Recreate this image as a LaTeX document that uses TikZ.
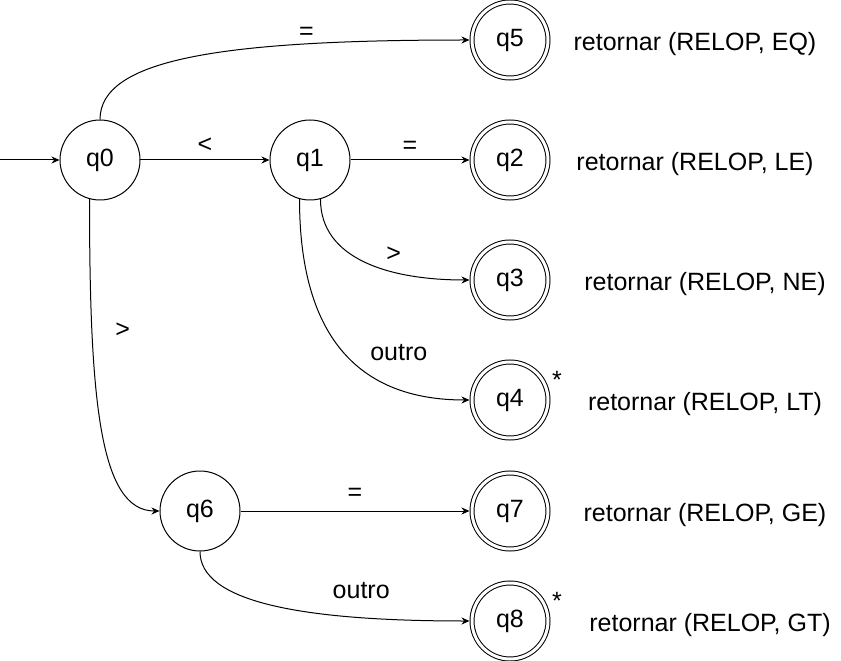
\documentclass[tikz,border=0pt]{standalone}
\usepackage{fontspec}
\setmainfont{Liberation Sans}
\usetikzlibrary{automata, positioning, arrows.meta}

\begin{document}
\begin{tikzpicture}[>={Stealth[length=8pt,width=7pt]}, node distance=120pt, on grid, auto,
    font=\fontsize{25}{30}\selectfont, line width=1pt,
    every state/.style={minimum size=80pt, inner sep=0pt},
    accepting by double/.style={double, double distance=3pt, minimum size=76pt, outer sep=2.5pt},
    retorno/.style={yshift=-4pt},
    asterisco/.style={inner sep=0pt}]
  \useasboundingbox (-100pt,-501pt) rectangle (741pt,160pt);

  \node[state] (q0) {q0};
  \node[state, right=210pt of q0] (q1) {q1};
  \node[state, accepting, right=200pt of q1] (q2) {q2};
  \node[state, accepting, above=120pt of q2] (q5) {q5};
  \node[state, accepting, below=120pt of q2] (q3) {q3};
  \node[state, accepting, below=120pt of q3] (q4) {q4};
  \node[state, below right=351pt and 100pt of q0] (q6) {q6};
  \node[state, accepting, right=310pt of q6] (q7) {q7};
  \node[state, accepting, below=110pt of q7] (q8) {q8};
  \coordinate[left=100pt of q0] (ini);

  \node[asterisco, above right=20pt and 47pt of q4] (s4) {*};
  \node[asterisco, above right=20pt and 47pt of q8] (s8) {*};

  \node[retorno, right=185pt of q5] (r5) {retornar (RELOP, EQ)};
  \node[retorno, right=185pt of q2] (r2) {retornar (RELOP, LE)};
  \node[retorno, right=195pt of q3] (r3) {retornar (RELOP, NE)};
  \node[retorno, right=195pt of q4] (r4) {retornar (RELOP, LT)};
  \node[retorno, right=195pt of q7] (r7) {retornar (RELOP, GE)};
  \node[retorno, right=200pt of q8] (r8) {retornar (RELOP, GT)};

  \path[->]
  (ini) edge (q0)
  (q0) edge node[yshift=4pt] {<} (q1)
  (q1) edge node[yshift=3pt] {=} (q2)
  (q0.north) edge[out=90, in=180, out distance=60pt, in distance=250pt] node[pos=0.77] {=} (q5)
  (q1.-75) edge[out=-90, in=180, out distance=60pt, in distance=80pt] node[pos=0.6, yshift=3pt] {>} (q3)
  (q1.-105) edge[out=-90, in=180, out distance=150pt, in distance=100pt] node[pos=0.6, yshift=8pt] {outro} (q4)
  (q0.-105) edge[out=-90, in=180, out distance=200pt, in distance=60pt] node[pos=0.27, xshift=19pt] {>} (q6)
  (q6) edge node[yshift=7pt] {=} (q7)
  (q6.south) edge[out=-90, in=180, out distance=50pt, in distance=170pt] node[pos=0.68, yshift=12pt] {outro} (q8);
\end{tikzpicture}
\end{document}
